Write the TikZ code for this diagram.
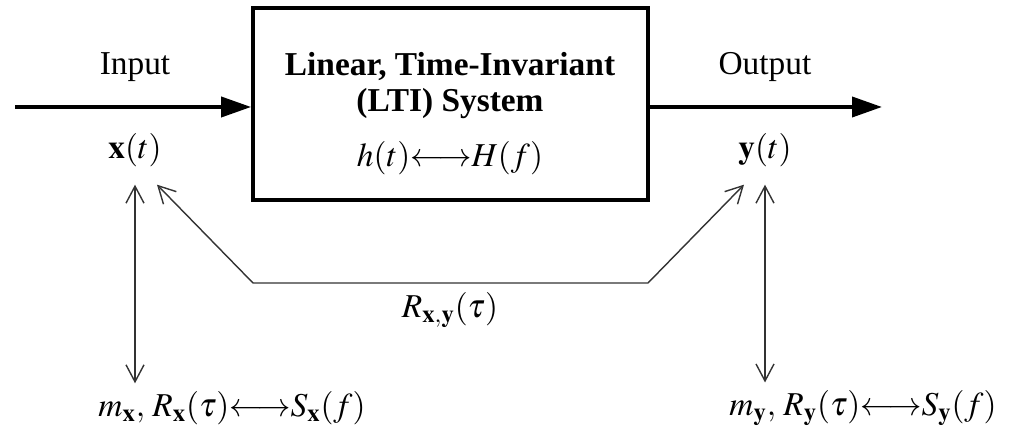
\documentclass[tikz,border=0pt]{standalone}
\usepackage{mathptmx}
\usepackage{fontspec}
\setmainfont{Liberation Serif}
\usepackage{tikz}
\usetikzlibrary{arrows.meta,positioning,calc}
\newcommand{\ftlr}{{\longleftrightarrow}}
\tikzset{
  lbl/.style={font=\fontsize{19}{20.5}\selectfont, align=center, inner sep=0pt},
  sig/.style={lbl, outer xsep=0pt, outer ysep=0.36cm},
  stat/.style={lbl, outer xsep=0pt, outer ysep=0.16cm},
  ltibox/.style={draw, line width=2.2pt, minimum width=7.9cm, minimum height=3.84cm, inner sep=0pt},
  sigarrow/.style={-{Triangle[length=0.6cm, width=0.4cm]}, line width=2.2pt},
  corr/.style={{Straight Barb[length=3.4mm, width=3.6mm]}-{Straight Barb[length=3.4mm, width=3.6mm]}, line width=0.8pt, black!80}
}
\begin{document}
\begin{tikzpicture}[x=0.02cm, y=-0.02cm]
  \useasboundingbox (0,0) rectangle (1014,431);
  % system block
  \node[ltibox] (lti) at (450.5,104) {};
  \node[lbl, font=\fontsize{19}{20.5}\selectfont\bfseries] (title) at (450,86) {Linear, Time-Invariant\\(LTI) System};
  \node[lbl] (hH) at (450,158) {$h(t)\ftlr H(f)$};
  % input and output
  \coordinate (src) at (15,107);
  \coordinate (sink) at (882,107);
  \node[lbl] (in) at (135,67) {Input};
  \node[lbl] (out) at (765,67) {Output};
  \node[sig] (xt) at (135,150) {$\mathbf{x}(t)$};
  \node[sig] (yt) at (765,150) {$\mathbf{y}(t)$};
  \draw[sigarrow] (src) -- (src -| lti.west);
  \draw[sigarrow] (src -| lti.east) -- (sink);
  % statistics
  \node[stat] (mx) at (232,408) {$m_{\mathbf{x}},\,R_{\mathbf{x}}(\tau)\ftlr S_{\mathbf{x}}(f)$};
  \node[stat] (my) at (863,408) {$m_{\mathbf{y}},\,R_{\mathbf{y}}(\tau)\ftlr S_{\mathbf{y}}(f)$};
  \draw[corr] (xt.south) -- (xt.south |- mx.north);
  \draw[corr] (yt.south) -- (yt.south |- my.north);
  % cross-correlation
  \draw[corr] ([xshift=0.44cm]xt.south) -- (253,283) -- (648,283) -- ([xshift=-0.42cm]yt.south);
  \node[lbl] (rxy) at (450,310) {$R_{\mathbf{x},\mathbf{y}}(\tau)$};
\end{tikzpicture}
\end{document}
